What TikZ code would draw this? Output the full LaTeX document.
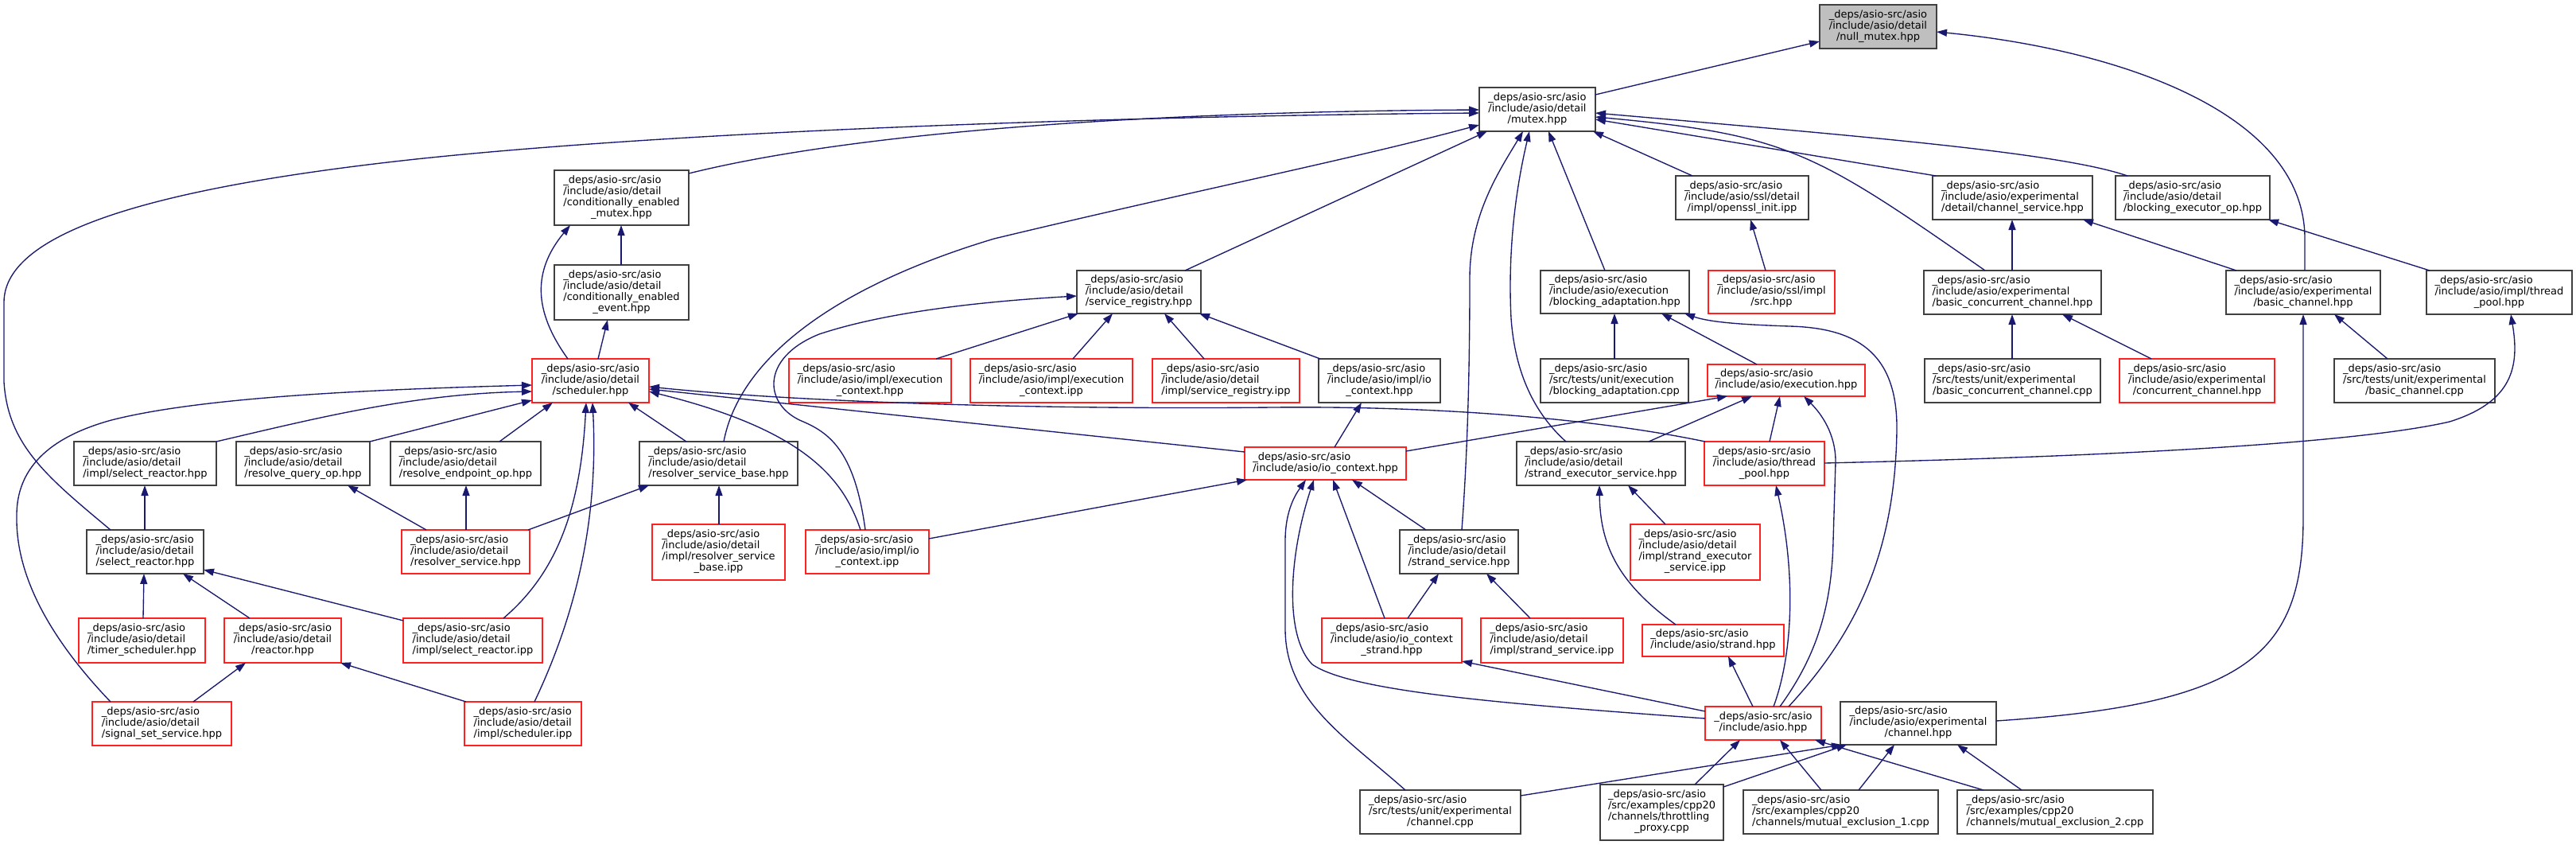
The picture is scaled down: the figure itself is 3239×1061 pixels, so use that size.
\documentclass[tikz,border=0pt]{standalone}
\usepackage{fontspec}
\setmainfont{DejaVu Sans}
\usetikzlibrary{arrows.meta}
\definecolor{edgec}{HTML}{191970}
\definecolor{nodeb}{HTML}{404040}
\definecolor{rootf}{HTML}{BFBFBF}
\definecolor{redb}{HTML}{FF2020}
\newcommand\tx[1]{\begin{tabular}{@{}l@{}}#1\end{tabular}}
\newcommand\lc[1]{\multicolumn{1}{@{}c@{}}{#1}}
\newcommand\D{\_deps/asio-src/asio\\}
\newcommand\nd[7]{\node[#6, minimum width={#3pt-#2pt}, minimum height={#5pt-#4pt}] (#1) at ({(#2+#3)/2},{(#4+#5)/2}) {\tx{#7}};}
\tikzset{
  base/.style={rectangle, inner sep=0pt, outer sep=0pt, line width=1.4pt, font=\fontsize{13}{14}\selectfont, fill=white},
  blk/.style={base, draw=nodeb},
  rd/.style={base, draw=redb},
  root/.style={base, draw=nodeb, fill=rootf},
  dep/.style={draw=edgec, line width=1.35pt, -{Triangle[length=13pt,width=9pt]}}
}
\begin{document}
\begin{tikzpicture}[x=1pt,y=-1pt]
\fill[white] (0,0) rectangle (3239,1061);
\useasboundingbox (0,0) rectangle (3239,1061);
% nodes
\nd{nullmutex}{2288}{2435}{6}{61}{root}{\D/include/asio/detail\\\lc{/null\_mutex.hpp}}
\nd{mutex}{1860}{2006}{110}{165}{blk}{\D/include/asio/detail\\\lc{/mutex.hpp}}
\nd{condmutex}{697}{866}{214}{283}{blk}{\D/include/asio/detail\\/conditionally\_enabled\\\lc{\_mutex.hpp}}
\nd{condevent}{697}{866}{333}{402}{blk}{\D/include/asio/detail\\/conditionally\_enabled\\\lc{\_event.hpp}}
\nd{openssl}{2107}{2274}{221}{276}{blk}{\D/include/asio/ssl/detail\\\lc{/impl/openssl\_init.ipp}}
\nd{chansvc}{2430}{2631}{221}{276}{blk}{\D/include/asio/experimental\\\lc{/detail/channel\_service.hpp}}
\nd{blockexec}{2660}{2854}{221}{276}{blk}{\D/include/asio/detail\\\lc{/blocking\_executor\_op.hpp}}
\nd{svcreg}{1354}{1510}{340}{394}{blk}{\D/include/asio/detail\\\lc{/service\_registry.hpp}}
\nd{blockadapt}{1937}{2124}{340}{394}{blk}{\D/include/asio/execution\\\lc{/blocking\_adaptation.hpp}}
\nd{sslsrc}{2148}{2307}{340}{394}{rd}{\D/include/asio/ssl/impl\\\lc{/src.hpp}}
\nd{bcchan}{2419}{2642}{340}{395}{blk}{\D/include/asio/experimental\\\lc{/basic\_concurrent\_channel.hpp}}
\nd{bchan}{2799}{2993}{340}{395}{blk}{\D/include/asio/experimental\\\lc{/basic\_channel.hpp}}
\nd{implpool}{3051}{3234}{340}{395}{blk}{\D/include/asio/impl/thread\\\lc{\_pool.hpp}}
\nd{sched}{669}{816}{451}{506}{rd}{\D/include/asio/detail\\\lc{/scheduler.hpp}}
\nd{iexhpp}{992}{1196}{451}{506}{rd}{\D/include/asio/impl/execution\\\lc{\_context.hpp}}
\nd{iexipp}{1220}{1424}{451}{506}{rd}{\D/include/asio/impl/execution\\\lc{\_context.ipp}}
\nd{svcregipp}{1449}{1634}{451}{506}{rd}{\D/include/asio/detail\\\lc{/impl/service\_registry.ipp}}
\nd{iioctxhpp}{1658}{1811}{451}{506}{blk}{\D/include/asio/impl/io\\\lc{\_context.hpp}}
\nd{tblockadapt}{1937}{2123}{451}{506}{blk}{\D/src/tests/unit/execution\\\lc{/blocking\_adaptation.cpp}}
\nd{exec}{2147}{2345}{458}{498}{rd}{\D\lc{/include/asio/execution.hpp}}
\nd{tbcchan}{2420}{2641}{451}{506}{blk}{\D/src/tests/unit/experimental\\\lc{/basic\_concurrent\_channel.cpp}}
\nd{cchan}{2665}{2860}{451}{506}{rd}{\D/include/asio/experimental\\\lc{/concurrent\_channel.hpp}}
\nd{tbchan}{2935}{3137}{451}{506}{blk}{\D/src/tests/unit/experimental\\\lc{/basic\_channel.cpp}}
\nd{iselreact}{93}{272}{555}{610}{blk}{\D/include/asio/detail\\\lc{/impl/select\_reactor.hpp}}
\nd{rqop}{297}{465}{555}{610}{blk}{\D/include/asio/detail\\\lc{/resolve\_query\_op.hpp}}
\nd{reop}{491}{680}{555}{610}{blk}{\D/include/asio/detail\\\lc{/resolve\_endpoint\_op.hpp}}
\nd{rsbase}{804}{1003}{555}{610}{blk}{\D/include/asio/detail\\\lc{/resolver\_service\_base.hpp}}
\nd{ioctx}{1565}{1768}{562}{603}{rd}{\D\lc{/include/asio/io\_context.hpp}}
\nd{sexsvc}{1907}{2119}{555}{610}{blk}{\D/include/asio/detail\\\lc{/strand\_executor\_service.hpp}}
\nd{pool}{2143}{2294}{555}{610}{rd}{\D/include/asio/thread\\\lc{\_pool.hpp}}
\nd{selreact}{109}{256}{666}{721}{blk}{\D/include/asio/detail\\\lc{/select\_reactor.hpp}}
\nd{rsvc}{505}{666}{666}{721}{rd}{\D/include/asio/detail\\\lc{/resolver\_service.hpp}}
\nd{irsbase}{820}{987}{659}{729}{rd}{\D/include/asio/detail\\/impl/resolver\_service\\\lc{\_base.ipp}}
\nd{iioctxipp}{1013}{1168}{666}{721}{rd}{\D/include/asio/impl/io\\\lc{\_context.ipp}}
\nd{strandsvc}{1760}{1909}{666}{721}{blk}{\D/include/asio/detail\\\lc{/strand\_service.hpp}}
\nd{isexsvc}{2050}{2213}{659}{729}{rd}{\D/include/asio/detail\\/impl/strand\_executor\\\lc{\_service.ipp}}
\nd{timersched}{99}{258}{777}{833}{rd}{\D/include/asio/detail\\\lc{/timer\_scheduler.hpp}}
\nd{reactor}{282}{429}{777}{833}{rd}{\D/include/asio/detail\\\lc{/reactor.hpp}}
\nd{iselreactipp}{507}{682}{777}{833}{rd}{\D/include/asio/detail\\\lc{/impl/select\_reactor.ipp}}
\nd{ioctxstrand}{1662}{1838}{777}{833}{rd}{\D/include/asio/io\_context\\\lc{\_strand.hpp}}
\nd{istrandsvc}{1862}{2041}{777}{833}{rd}{\D/include/asio/detail\\\lc{/impl/strand\_service.ipp}}
\nd{strand}{2065}{2243}{785}{825}{rd}{\D\lc{/include/asio/strand.hpp}}
\nd{sigset}{116}{291}{882}{937}{rd}{\D/include/asio/detail\\\lc{/signal\_set\_service.hpp}}
\nd{ischedipp}{584}{731}{882}{937}{rd}{\D/include/asio/detail\\\lc{/impl/scheduler.ipp}}
\nd{asio}{2144}{2290}{888}{930}{rd}{\D\lc{/include/asio.hpp}}
\nd{chanhpp}{2314}{2510}{882}{936}{blk}{\D/include/asio/experimental\\\lc{/channel.hpp}}
\nd{tchan}{1710}{1912}{993}{1048}{blk}{\D/src/tests/unit/experimental\\\lc{/channel.cpp}}
\nd{throttle}{2012}{2167}{986}{1056}{blk}{\D/src/examples/cpp20\\/channels/throttling\\\lc{\_proxy.cpp}}
\nd{mutex1}{2192}{2437}{993}{1048}{blk}{\D/src/examples/cpp20\\\lc{/channels/mutual\_exclusion\_1.cpp}}
\nd{mutex2}{2461}{2707}{993}{1048}{blk}{\D/src/examples/cpp20\\\lc{/channels/mutual\_exclusion\_2.cpp}}
% edges
\draw[dep] (mutex.east |- 0,119) -- (nullmutex.west |- 0,52);
\draw[dep] (bchan.north -| 2898,0) -- (2898,300) .. controls (2898,140) and (2660,62) .. (nullmutex.east |- 0,40);
\draw[dep] (condmutex.east |- 0,218) .. controls (1100,160) and (1500,140) .. (mutex.west |- 0,138);
\draw[dep] (selreact.north -| 139,0) .. controls (60,600) and (10,560) .. (5,480) -- (5,380) .. controls (5,290) and (200,235) .. (523,200) .. controls (900,160) and (1500,145) .. (mutex.west |- 0,142);
\draw[dep] (rsbase.north -| 910,0) .. controls (930,450) and (1050,360) .. (1250,300) .. controls (1500,240) and (1700,200) .. (mutex.west |- 0,157);
\draw[dep] (svcreg.north -| 1490,0) -- (mutex.south -| 1870,0);
\draw[dep] (strandsvc.north -| 1838,0) .. controls (1846,560) and (1848,450) .. (1848,350) .. controls (1848,270) and (1885,215) .. (mutex.south -| 1915,0);
\draw[dep] (sexsvc.north -| 1969,0) .. controls (1930,520) and (1905,470) .. (1900,400) .. controls (1895,300) and (1910,220) .. (mutex.south -| 1923,0);
\draw[dep] (blockadapt.north -| 2018,0) -- (mutex.south -| 1947,0);
\draw[dep] (openssl.north -| 2128,0) -- (mutex.south -| 2003,0);
\draw[dep] (blockexec.north -| 2675,0) .. controls (2590,192) and (2350,172) .. (mutex.east |- 0,142);
\draw[dep] (chansvc.north -| 2434,0) -- (mutex.east |- 0,150);
\draw[dep] (bcchan.north -| 2496,0) .. controls (2282,191) and (2248,169) .. (mutex.east |- 0,147);
\draw[dep] (bcchan.north -| 2530,0) -- (chansvc.south -| 2530,0);
\draw[dep] (bchan.north -| 2812,0) -- (chansvc.south -| 2619,0);
\draw[dep] (implpool.north -| 3055,0) -- (blockexec.south -| 2852,0);
\draw[dep] (sslsrc.north -| 2220,0) -- (openssl.south -| 2201,0);
\draw[dep] (tblockadapt.north -| 2030,0) -- (blockadapt.south -| 2030,0);
\draw[dep] (exec.north -| 2209,0) -- (blockadapt.south -| 2089,0);
\draw[dep] (asio.north -| 2249,0) .. controls (2330,800) and (2383,700) .. (2385,540) .. controls (2386,440) and (2330,412) .. (2250,410) .. controls (2190,408) and (2150,405) .. (blockadapt.south -| 2118,0);
\draw[dep] (ioctx.east |- 0,567) -- (exec.south -| 2172,0);
\draw[dep] (sexsvc.north -| 2073,0) -- (exec.south -| 2203,0);
\draw[dep] (pool.north -| 2225,0) -- (exec.south -| 2238,0);
\draw[dep] (asio.north -| 2238,0) .. controls (2280,830) and (2303,770) .. (2305,680) -- (2308,580) .. controls (2308,545) and (2290,520) .. (exec.south -| 2268,0);
\draw[dep] (asio.north -| 2230,0) .. controls (2255,820) and (2258,720) .. (pool.south -| 2233,0);
\draw[dep] (asio.north -| 2204,0) -- (strand.south -| 2173,0);
\draw[dep] (pool.east |- 0,582) .. controls (2600,575) and (2950,560) .. (3080,530) .. controls (3160,505) and (3168,460) .. (implpool.south -| 3157,0);
\draw[dep] (chanhpp.east |- 0,906) .. controls (2830,885) and (2896,820) .. (2896,650) -- (bchan.south -| 2896,0);
\draw[dep] (cchan.north -| 2705,0) -- (bcchan.south -| 2593,0);
\draw[dep] (tbcchan.north -| 2530,0) -- (bcchan.south -| 2530,0);
\draw[dep] (tbchan.north -| 3002,0) -- (bchan.south -| 2935,0);
\draw[dep] (condevent.north -| 781,0) -- (condmutex.south -| 781,0);
\draw[dep] (sched.north -| 714,0) .. controls (670,390) and (670,340) .. (condmutex.south -| 717,0);
\draw[dep] (sched.north -| 752,0) -- (condevent.south -| 764,0);
\draw[dep] (sigset.north -| 139,0) .. controls (70,810) and (20,730) .. (21,650) .. controls (20,590) and (60,550) .. (140,528) .. controls (250,500) and (450,490) .. (sched.west |- 0,484);
\draw[dep] (iselreact.north -| 272,0) .. controls (400,525) and (520,495) .. (sched.west |- 0,492);
\draw[dep] (rqop.north -| 465,0) -- (sched.west |- 0,503);
\draw[dep] (reop.north -| 628,0) -- (sched.south -| 695,0);
\draw[dep] (iselreactipp.north -| 633,0) .. controls (700,720) and (730,640) .. (sched.south -| 737,0);
\draw[dep] (ischedipp.north -| 672,0) .. controls (730,760) and (752,640) .. (sched.south -| 745,0);
\draw[dep] (rsbase.north -| 863,0) -- (sched.south -| 790,0);
\draw[dep] (ioctx.west |- 0,568) -- (sched.east |- 0,489);
\draw[dep] (pool.north -| 2144,0) .. controls (2000,525) and (1800,510) .. (1600,512) .. controls (1300,515) and (1000,505) .. (sched.east |- 0,486);
\draw[dep] (iioctxipp.north -| 1082,0) .. controls (1060,600) and (1010,540) .. (sched.east |- 0,492);
\draw[dep] (iioctxipp.north -| 1088,0) .. controls (1075,570) and (1045,545) .. (1010,530) .. controls (960,510) and (955,450) .. (1030,420) .. controls (1120,390) and (1250,378) .. (svcreg.west |- 0,372);
\draw[dep] (iexhpp.north -| 1177,0) -- (svcreg.south -| 1356,0);
\draw[dep] (iexipp.north -| 1349,0) -- (svcreg.south -| 1399,0);
\draw[dep] (svcregipp.north -| 1514,0) -- (svcreg.south -| 1464,0);
\draw[dep] (iioctxhpp.north -| 1660,0) -- (svcreg.south -| 1508,0);
\draw[dep] (ioctx.north -| 1678,0) -- (iioctxhpp.south -| 1712,0);
\draw[dep] (iioctxipp.east |- 0,677) -- (ioctx.south -| 1568,0);
\draw[dep] (tchan.north -| 1767,0) .. controls (1690,925) and (1616,880) .. (1616,790) -- (1616,680) .. controls (1616,640) and (1630,620) .. (ioctx.south -| 1642,0);
\draw[dep] (asio.west |- 0,903) .. controls (1900,885) and (1700,870) .. (1650,835) .. controls (1615,800) and (1620,700) .. (ioctx.south -| 1652,0);
\draw[dep] (ioctxstrand.north -| 1741,0) -- (ioctx.south -| 1676,0);
\draw[dep] (strandsvc.north -| 1793,0) -- (ioctx.south -| 1700,0);
\draw[dep] (ioctxstrand.north -| 1770,0) -- (strandsvc.south -| 1809,0);
\draw[dep] (istrandsvc.north -| 1924,0) -- (strandsvc.south -| 1869,0);
\draw[dep] (isexsvc.north -| 2094,0) -- (sexsvc.south -| 2047,0);
\draw[dep] (strand.north -| 2107,0) .. controls (2030,730) and (2012,680) .. (sexsvc.south -| 2011,0);
\draw[dep] (asio.west |- 0,894) -- (ioctxstrand.east |- 0,831);
\draw[dep] (throttle.north -| 2131,0) -- (asio.south -| 2188,0);
\draw[dep] (mutex1.north -| 2290,0) -- (asio.south -| 2238,0);
\draw[dep] (mutex2.north -| 2494,0) -- (asio.south -| 2282,0);
\draw[dep] (tchan.east |- 0,1000) -- (chanhpp.south -| 2316,0);
\draw[dep] (throttle.east |- 0,989) -- (chanhpp.south -| 2322,0);
\draw[dep] (mutex1.north -| 2337,0) -- (chanhpp.south -| 2382,0);
\draw[dep] (mutex2.north -| 2542,0) -- (chanhpp.south -| 2461,0);
\draw[dep] (selreact.north -| 182,0) -- (iselreact.south -| 182,0);
\draw[dep] (timersched.north -| 180,0) -- (selreact.south -| 181,0);
\draw[dep] (reactor.north -| 314,0) -- (selreact.south -| 230,0);
\draw[dep] (iselreactipp.west |- 0,780) -- (selreact.east |- 0,716);
\draw[dep] (sigset.north -| 243,0) -- (reactor.south -| 309,0);
\draw[dep] (ischedipp.north -| 586,0) -- (reactor.south -| 428,0);
\draw[dep] (rsvc.north -| 536,0) -- (rqop.south -| 437,0);
\draw[dep] (rsvc.north -| 586,0) -- (reop.south -| 586,0);
\draw[dep] (rsvc.north -| 664,0) -- (rsbase.south -| 816,0);
\draw[dep] (irsbase.north -| 904,0) -- (rsbase.south -| 904,0);
\end{tikzpicture}
\end{document}
